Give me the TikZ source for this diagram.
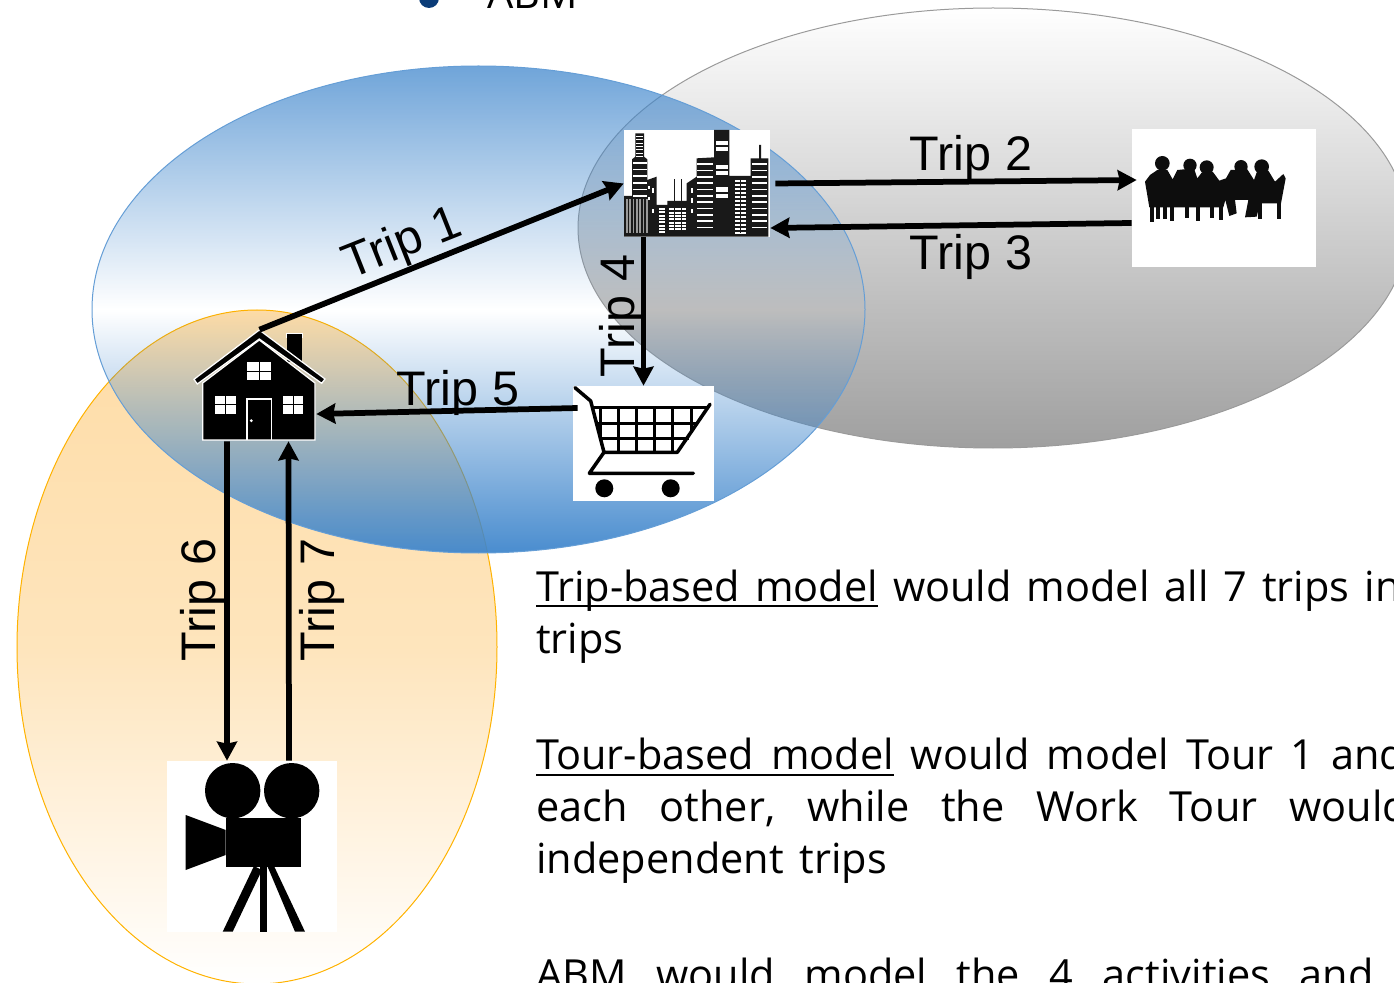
\documentclass[tikz,border=0pt]{standalone}
\usepackage{fontspec}
\setmainfont{Open Sans}
\newfontfamily\labelfont{Liberation Sans}
\usetikzlibrary{arrows.meta,fadings}
\newcommand{\modelname}[1]{\setbox0=\hbox{#1}\rlap{\vrule width\wd0 height -.09cm depth .13cm}\box0\relax}
\definecolor{zoneblue}{HTML}{3F86CC}
\definecolor{zonegray}{HTML}{9A9A9A}
\definecolor{zoneorange}{HTML}{FEDCA6}
\definecolor{bulletblue}{HTML}{0B3C78}
\tikzfading[name=bluefade, top color=transparent!25, bottom color=transparent!5, middle color=transparent!100]
\tikzfading[name=grayfade, top color=transparent!100, bottom color=transparent!5]
\tikzfading[name=orangefade, top color=transparent!0, bottom color=transparent!100, middle color=transparent!25]
\begin{document}
\begin{tikzpicture}[x=.02cm, y=-.02cm]
\tikzset{%
	icon/.style = {rectangle, fill = white, inner sep = 0pt},
	triplabel/.style = {font=\labelfont\fontsize{27.6}{30}\selectfont, inner sep = 0pt},
	bodyline/.style = {anchor=base west, inner sep = 0pt, font=\fontsize{23.6}{29}\selectfont},
	con/.style = {-{Stealth[length=.38cm,width=.4cm,inset=.04cm]},line width=.115cm},
	grid/.style = {line width=.05cm},
	frame/.style = {line width=.07cm, line cap=round, line join=round}
}
\useasboundingbox (0,0) rectangle (1394,983);
\clip (0,0) rectangle (1394,983);

% Zones

\fill[zonegray, path fading=grayfade] (993,228) ellipse [x radius=415, y radius=220];
\draw[zonegray, line width=.02cm] (993,228) ellipse [x radius=415, y radius=220];
\fill[zoneorange, path fading=orangefade] (257,647) ellipse [x radius=240, y radius=337];
\draw[orange!60!yellow, line width=.02cm] (257,647) ellipse [x radius=240, y radius=337];
\fill[zoneblue, path fading=bluefade] (478.5,309.5) ellipse [x radius=386.5, y radius=243.5];
\draw[zoneblue!80!white, line width=.02cm] (478.5,309.5) ellipse [x radius=386.5, y radius=243.5];

% Activities

\draw node at (697,183.5) [icon, minimum width=2.92cm, minimum height=2.13cm] (city) {};
\draw node at (1224,198) [icon, minimum width=3.68cm, minimum height=2.75cm] (meeting) {};
\draw node at (643.5,443.5) [icon, minimum width=2.82cm, minimum height=2.3cm] (cart) {};
\draw node at (252,846.5) [icon, minimum width=3.4cm, minimum height=3.42cm] (film) {};
\draw node at (259.5,385.5) [minimum width=2.54cm, minimum height=2.22cm, inner sep=0pt] (home) {};

% House
\draw[white, fill=black, line width=.02cm] (286.7,333.3) rectangle (302.7,337.3);
\fill (287.3,337) rectangle (301.7,362);
\draw[white, fill=black, line width=.025cm] (202.7,383) -- (259.3,340) -- (315,383) -- (315,440) -- (202.7,440) -- cycle;
\draw[white, fill=black, line width=.025cm] (194,379.3) -- (259.3,330) -- (325,379) -- (321.7,383.3) -- (259.3,339) -- (197.3,384) -- cycle;
\fill[white] (247.3,362.3) rectangle (271,380.3);
\fill[white] (215,396) rectangle (236,414);
\fill[white] (283.3,396) rectangle (303.3,414);
\draw[line width=.02cm] (259.2,362.3) -- (259.2,380.3) (247.3,371.3) -- (271,371.3);
\draw[line width=.02cm] (225.5,396) -- (225.5,414) (215,405) -- (236,405);
\draw[line width=.02cm] (293.3,396) -- (293.3,414) (283.3,405) -- (303.3,405);
\draw[white, line width=.025cm] (247,440) -- (247,399) -- (271.5,399) -- (271.5,440);
\fill[white] (251.3,420.7) circle [radius=1.6];

% City
\begin{scope}[shift={(560,100)}, scale=1/3]
\fill[black!90] (192,410) -- (192,288) -- (216,288) -- (216,178) -- (226,170) -- (226,100) -- (252,100) -- (252,170) -- (262,178) -- (262,240) -- (290,230) -- (290,315) -- (322,315) -- (322,303) -- (380,303) -- (380,250) -- (410,230) -- (410,175) -- (462,172) -- (462,90) -- (508,90) -- (508,228) -- (572,228) -- (572,175) -- (597,175) -- (597,135) -- (603,135) -- (603,175) -- (625,175) -- (625,410) -- cycle;
\foreach \wy in {108,118,...,168} {\fill[white] (228,\wy) rectangle (250,\wy+3);}
\foreach \wy in {186,206,...,286} {\fill[white] (218,\wy) rectangle (260,\wy+5);}
\foreach \wy in {190,209,...,398} {\fill[white] (412,\wy) rectangle (460,\wy+5);}
\foreach \wy in {190,209,...,398} {\fill[white] (575,\wy) rectangle (622,\wy+5);}
\foreach \wx in {198,208,...,258} {\fill[black!40] (\wx,296) rectangle (\wx+5,400);}
\foreach \wy in {122,140,195,213,262,282} {\fill[white] (468,\wy) rectangle (503,\wy+13);}
\foreach \wy in {240,252,...,396} {\fill[white] (524,\wy) rectangle (558,\wy+7);}
\foreach \wy in {325,335,...,385} {\fill[white] (326,\wy) rectangle (378,\wy+6);}
\foreach \wy in {324,334,...,400} {\fill[white] (298,\wy) rectangle (316,\wy+6);}
\foreach \wx in {540,343,362} {\fill[black!90] (\wx,238) rectangle (\wx+2,400);}
\fill[white] (264,258) rectangle (270,268);
\fill[white] (276,265) rectangle (282,278);
\fill[white] (264,290) rectangle (270,300);
\fill[white] (276,328) rectangle (282,340);
\fill[white] (394,265) rectangle (400,278);
\fill[white] (394,295) rectangle (400,310);
\fill[white] (394,328) rectangle (400,340);
\end{scope}

% Meeting
\begin{scope}[shift={(1120,120)}, scale=1/3]
\fill[black!95] (127,130) circle [radius=22];
\fill[black!95] (210,136) circle [radius=20];
\fill[black!95] (260,142) circle [radius=21];
\fill[black!95] (363,140) circle [radius=20];
\fill[black!95] (425,140) circle [radius=22];
\fill[black!95] (75,185) -- (90,165) -- (112,150) -- (142,150) -- (158,178) -- (172,150) -- (222,145) -- (232,175) -- (245,158) -- (278,155) -- (298,182) -- (318,175) -- (332,150) -- (382,148) -- (402,180) -- (412,152) -- (445,152) -- (465,185) -- (490,162) -- (497,175) -- (483,250) -- (420,250) -- (410,290) -- (375,292) -- (385,240) -- (345,240) -- (350,280) -- (328,288) -- (316,240) -- (310,262) -- (88,262) -- cycle;
\foreach \lx/\ly in {97/305,115/298,135/298,155/303,200/295,235/303,275/295,302/300,420/298,476/298} {\draw[black!95, line width=.08cm] (\lx,250) -- (\lx,\ly);}
\end{scope}

% Cart
\draw[frame] (575,387.7) -- (590.7,401) -- (604,452.3) -- (677.3,452.3) -- (710,404.3);
\draw[frame] (593,407.3) -- (707,407.3);
\draw[frame] (604,452.3) -- (589.3,473.3) -- (693.3,473.3);
\foreach \gx/\gy in {600.7/438.3, 618.3/452.3, 636.7/452.3, 654.3/452.3, 672.7/452.3, 691.7/433} {\draw[grid] (\gx,407.3) -- (\gx,\gy);}
\draw[grid] (596.3,423.3) -- (697,423.3);
\draw[grid] (600.3,438.3) -- (688.7,438.3);
\fill (604.3,488.3) circle [radius=9];
\fill (670.7,488.3) circle [radius=9];

% Camera
\fill (232.7,790.7) circle [radius=27.7];
\fill (291.7,790.7) circle [radius=27.7];
\fill (225.7,817.7) rectangle (300.7,866.7);
\fill (185.7,815) -- (225.7,830) -- (225.7,855) -- (185.7,870) -- cycle;
\fill (260,866) rectangle (267.3,931.7);
\fill (254,866) -- (262,870) -- (232.7,931.7) -- (222.7,931.7) -- cycle;
\fill (267.3,866) -- (274,866) -- (305,931.7) -- (295,931.7) -- cycle;

% Trips

\draw[con] (home.north) -- (city.west);
\draw[con] ([xshift=1mm]city.east) -- ([xshift=1mm,yshift=3.6mm]meeting.west);
\draw[con] ([yshift=-5mm]meeting.west) -- ([yshift=-8.9mm]city.east);
\draw[con] (cart.north |- city.south) -- (cart.north);
\draw[con] ([xshift=1mm,yshift=7.1mm]cart.west) -- ([xshift=-1.4mm,yshift=-5.7mm]home.east);
\draw[con] ([xshift=-6.5mm]home.south) -- ([xshift=-5mm]film.north);
\draw[con] ([xshift=7.4mm]film.north) -- ([xshift=5.8mm]home.south);

\draw node at (403,245) [triplabel, rotate=21.6] (t1) {Trip 1};
\draw node at (971,158) [triplabel] (t2) {Trip 2};
\draw node at (971,257) [triplabel] (t3) {Trip 3};
\draw node at (622,316) [triplabel, rotate=90] (t4) {Trip 4};
\draw node at (458,393) [triplabel] (t5) {Trip 5};
\draw node at (203,600) [triplabel, rotate=90] (t6) {Trip 6};
\draw node at (322,600) [triplabel, rotate=90] (t7) {Trip 7};

% Text

\fill[bulletblue] (429,-2) circle [radius=10];
\draw node at (487,9) [bodyline] (head) {ABM};

\draw node at (536,601) [bodyline] (l1) {\spaceskip=.3cm\modelname{Trip-based model} would model all 7 trips in};
\draw node at (536,653) [bodyline] (l2) {trips};
\draw node at (536,769) [bodyline] (l3) {\spaceskip=.34cm\modelname{Tour-based model} would model Tour 1 and};
\draw node at (536,821) [bodyline] (l4) {\spaceskip=.64cm each other, while the Work Tour would};
\draw node at (536,873) [bodyline] (l5) {\spaceskip=.32cm independent trips};
\draw node at (536,989) [bodyline] (l6) {\spaceskip=.59cm ABM would model the 4 activities and};

\end{tikzpicture}
\end{document}
